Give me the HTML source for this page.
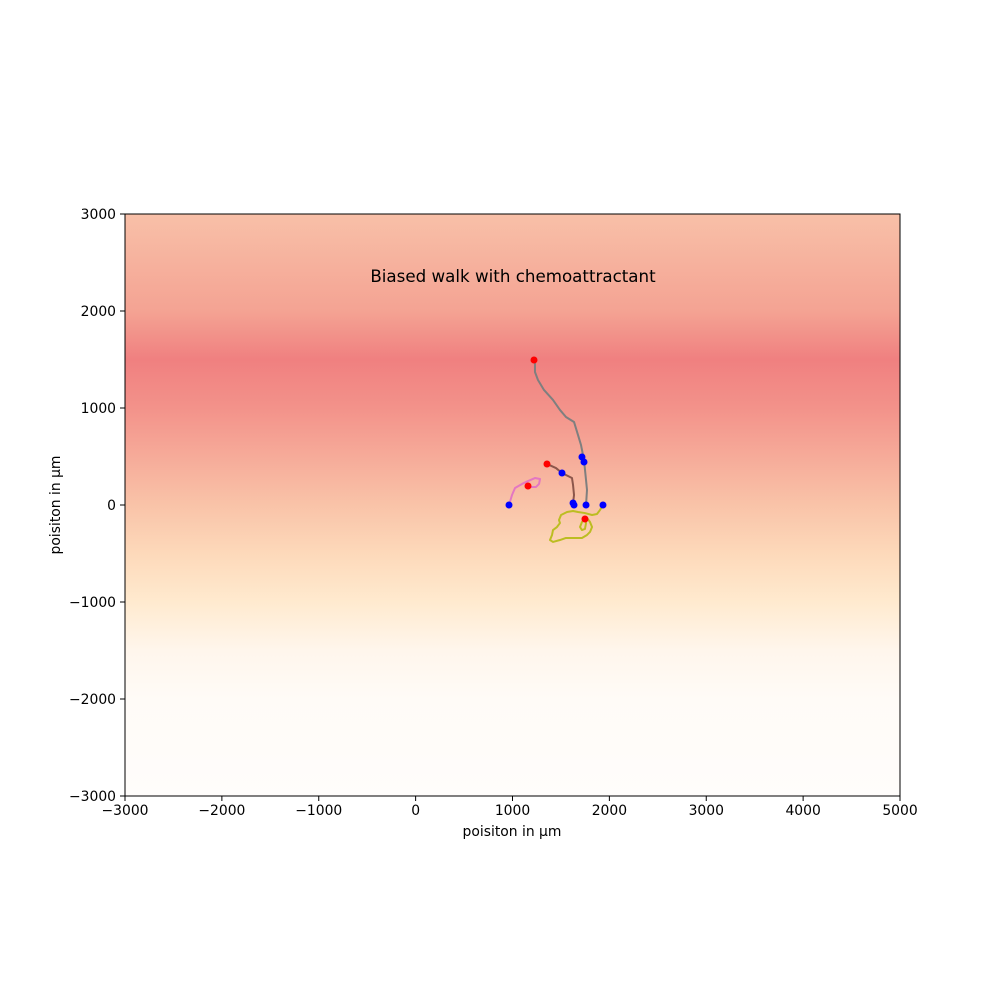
<!DOCTYPE html>
<html><head><meta charset="utf-8"><style>body{margin:0;background:#fff}svg{display:block;font-family:"DejaVu Sans","Liberation Sans",sans-serif}</style></head>
<body>
<svg id="chart" width="1000" height="1000">
<defs><linearGradient id="bg" x1="0" y1="0" x2="0" y2="1">
<stop offset="0" stop-color="#f8c0a8"/><stop offset="0.1667" stop-color="#f4a393"/><stop offset="0.25" stop-color="#f08080"/><stop offset="0.3333" stop-color="#f3928a"/><stop offset="0.5" stop-color="#f9c3a8"/><stop offset="0.5833" stop-color="#fdd9ba"/><stop offset="0.6667" stop-color="#ffeacf"/><stop offset="0.75" stop-color="#fff6ec"/><stop offset="0.8333" stop-color="#fffbf7"/><stop offset="1" stop-color="#fffdfb"/>
</linearGradient></defs>
<rect x="125" y="214" width="775" height="582" fill="url(#bg)"/>
<g id="marks"></g>
<rect x="125" y="214" width="775" height="582" fill="none" stroke="#000" stroke-width="1"/>
<text x="513" y="282" font-size="16.7" text-anchor="middle">Biased walk with chemoattractant</text>
<g id="axes"></g>
<text x="512" y="836" font-size="13.9" text-anchor="middle">poisiton in µm</text>
<text transform="translate(60,505) rotate(-90)" font-size="13.9" text-anchor="middle">poisiton in µm</text>
</svg>
<script>
const xTicks=[-3000,-2000,-1000,0,1000,2000,3000,4000,5000];
const yTicks=[-3000,-2000,-1000,0,1000,2000,3000];
const grayX=[1759,1769,1759,1738,1707,1676,1635,1552,1490,1418,1325,1263,1232,1232];
const grayY=[0,155,258,464,619,722,856,907,980,1083,1186,1289,1371,1495];
const brownX=[1625,1635,1625,1614,1552,1511,1449,1356];
const brownY=[21,103,206,278,309,330,381,423];
const pinkX=[964,995,1026,1098,1160,1232,1284,1274,1243,1181,1160];
const pinkY=[0,103,175,217,247,278,268,217,186,186,196];
const oliveX=[1934,1903,1872,1821,1748,1676,1625,1563,1501,1480,1490,1459,1418,1408,1387,1418,1490,1552,1625,1717,1769,1800,1821,1800,1769,1717,1697,1717,1748,1759,1748];
const oliveY=[0,-52,-93,-103,-83,-72,-62,-72,-103,-155,-186,-227,-258,-309,-361,-381,-361,-340,-340,-340,-309,-278,-227,-175,-134,-175,-227,-258,-247,-186,-144];
const startX=[964,1635,1759,1934,1717,1738,1511,1625];
const startY=[0,0,0,0,495,443,330,21];
const endX=[1222,1356,1160,1748];
const endY=[1495,423,196,-144];
const NS='http://www.w3.org/2000/svg';
const sx=v=>125+(v+3000)/8000*775;
const sy=v=>796-(v+3000)/6000*582;
const marks=document.getElementById('marks'),axes=document.getElementById('axes');
function mk(t,a,p){const e=document.createElementNS(NS,t);for(const k in a)e.setAttribute(k,a[k]);p.appendChild(e);return e;}
function line(xs,ys,c,name){const e=mk('polyline',{points:xs.map((x,i)=>sx(x)+','+sy(ys[i])).join(' '),fill:'none',stroke:c,'stroke-width':2,'stroke-linejoin':'round'},marks);

}
line(grayX,grayY,'#7f7f7f','trajectory-gray');
line(brownX,brownY,'#8c564b','trajectory-brown');
line(pinkX,pinkY,'#e377c2','trajectory-pink');
line(oliveX,oliveY,'#bcbd22','trajectory-olive');
startX.forEach((x,i)=>{const c=mk('circle',{cx:sx(x),cy:sy(startY[i]),r:3.5,fill:'#0000ff'},marks);

});
endX.forEach((x,i)=>{const c=mk('circle',{cx:sx(x),cy:sy(endY[i]),r:3.5,fill:'#ff0000'},marks);

});
const fmt=v=>v<0?'\u2212'+(-v):''+v;
xTicks.forEach(v=>{const x=sx(v);mk('line',{x1:x,x2:x,y1:796,y2:801,stroke:'#000'},axes);
const t=mk('text',{x:x,y:815,'font-size':13.9,'text-anchor':'middle'},axes);t.textContent=fmt(v);

});
yTicks.forEach(v=>{const y=sy(v);mk('line',{x1:120,x2:125,y1:y,y2:y,stroke:'#000'},axes);
const t=mk('text',{x:116,y:y+5,'font-size':13.9,'text-anchor':'end'},axes);t.textContent=fmt(v);

});
</script>
</body></html>
